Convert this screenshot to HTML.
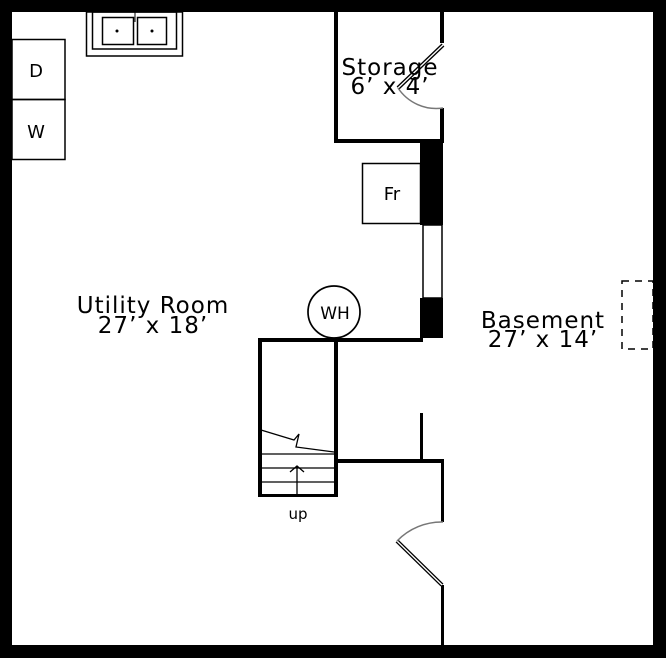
<!DOCTYPE html>
<html><head><style>html,body{margin:0;padding:0;background:#fff}svg{display:block}text{font-family:"DejaVu Sans","Liberation Sans",sans-serif;fill:#000}</style></head>
<body>
<svg width="666" height="658" viewBox="0 0 666 658" xmlns="http://www.w3.org/2000/svg">
<rect width="666" height="658" fill="#fff"/>
<rect x="0" y="0" width="666" height="12" fill="#000"/>
<rect x="0" y="0" width="12" height="658" fill="#000"/>
<rect x="653" y="0" width="13" height="658" fill="#000"/>
<rect x="0" y="645" width="666" height="13" fill="#000"/>
<rect x="334" y="12" width="4" height="131" fill="#000"/>
<rect x="334" y="139" width="109" height="4" fill="#000"/>
<rect x="440" y="12" width="4" height="31" fill="#000"/>
<rect x="440" y="108" width="4" height="35" fill="#000"/>
<line x1="443" y1="45" x2="398" y2="88" stroke="#000" stroke-width="4"/>
<line x1="443" y1="45" x2="398" y2="88" stroke="#fff" stroke-width="1.3"/>
<path d="M398 88 A46 46 0 0 0 443 108" fill="none" stroke="#777" stroke-width="1.5"/>
<rect x="420" y="143" width="23" height="82" fill="#000"/>
<rect x="423" y="225" width="19" height="73" fill="#fff" stroke="#000" stroke-width="1.5"/>
<rect x="420" y="298" width="23" height="40" fill="#000"/>
<rect x="258" y="338" width="165" height="4" fill="#000"/>
<rect x="258" y="338" width="4" height="159" fill="#000"/>
<rect x="334" y="338" width="4" height="159" fill="#000"/>
<rect x="258" y="494" width="80" height="3" fill="#000"/>
<g stroke="#000" stroke-width="1.3">
<polyline points="261,430 294,440 299,434 296,447 334,452" fill="none"/>
<line x1="261" y1="454" x2="334" y2="454"/>
<line x1="261" y1="468" x2="334" y2="468"/>
<line x1="261" y1="482" x2="334" y2="482"/>
<line x1="297" y1="494" x2="297" y2="466"/>
<polyline points="290,472 297,466 304,472" fill="none"/>
</g>
<text x="298" y="519" font-size="15" text-anchor="middle">up</text>
<rect x="338" y="459" width="106" height="4" fill="#000"/>
<rect x="420" y="413" width="3" height="48" fill="#000"/>
<rect x="441" y="459" width="3" height="63" fill="#000"/>
<rect x="441" y="585" width="3" height="60" fill="#000"/>
<line x1="442" y1="585" x2="397" y2="541" stroke="#000" stroke-width="4"/>
<line x1="442" y1="585" x2="397" y2="541" stroke="#fff" stroke-width="1.3"/>
<path d="M397 541 A62 62 0 0 1 443 522" fill="none" stroke="#777" stroke-width="1.5"/>
<g fill="none" stroke="#000" stroke-width="1.5">
<rect x="86.5" y="12" width="96" height="44"/>
<rect x="92.5" y="12" width="84" height="37"/>
<rect x="102.5" y="17.5" width="31" height="27"/>
<rect x="137.5" y="17.5" width="29" height="27"/>
</g>
<circle cx="117" cy="31" r="1.5"/><circle cx="152" cy="31" r="1.5"/>
<line x1="135" y1="12" x2="135" y2="22" stroke="#000" stroke-width="1"/>
<g fill="none" stroke="#000" stroke-width="1.5">
<rect x="12" y="39.5" width="53" height="60"/>
<rect x="12" y="99.5" width="53" height="60"/>
<rect x="362.5" y="163.5" width="58" height="60"/>
<rect x="622" y="281" width="31" height="68" stroke-dasharray="7,6"/>
</g>
<circle cx="334" cy="312" r="26" fill="#fff" stroke="#000" stroke-width="1.7"/>
<line x1="334" y1="338" x2="334" y2="342" stroke="#000" stroke-width="4"/>
<text x="36" y="77" font-size="18" text-anchor="middle">D</text>
<text x="36" y="138" font-size="18" text-anchor="middle">W</text>
<text x="392" y="200" font-size="18" text-anchor="middle">Fr</text>
<text x="335" y="319" font-size="17" text-anchor="middle">WH</text>
<g font-size="23" letter-spacing="1" text-anchor="middle">
<text x="390" y="75">Storage</text>
<text x="390" y="94">6’ x 4’</text>
<text x="153" y="313">Utility Room</text>
<text x="153" y="333">27’ x 18’</text>
<text x="543" y="328">Basement</text>
<text x="543" y="347">27’ x 14’</text>
</g>
</svg>
</body></html>
